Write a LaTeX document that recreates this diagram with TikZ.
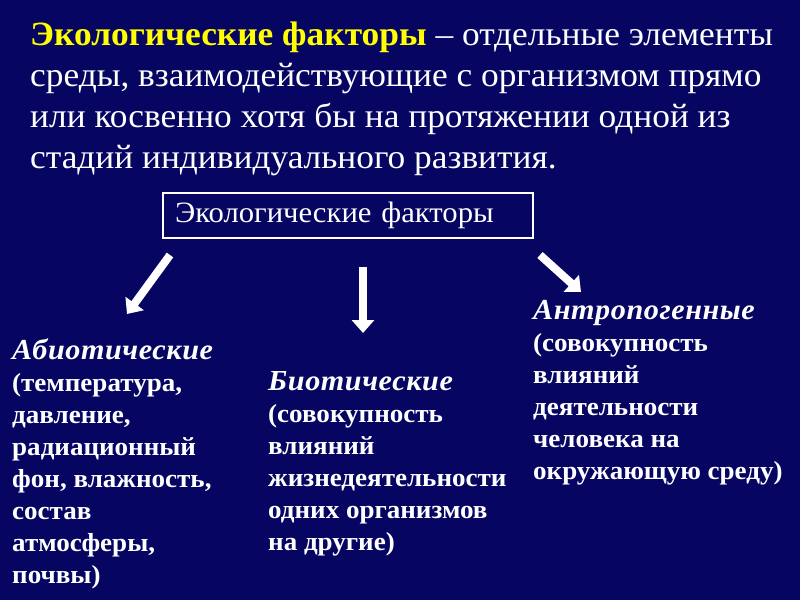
\documentclass[tikz,border=0pt]{standalone}
\usepackage{fontspec}
\setmainfont[FakeStretch=1.04]{Liberation Serif}
\usetikzlibrary{arrows.meta}
\definecolor{slidebg}{RGB}{6,6,98}
\definecolor{termyellow}{RGB}{255,255,0}
\tikzset{
  groupbox/.style={anchor=north west,align=left,text=white,inner sep=0pt,
    font=\fontsize{26}{32}\selectfont\bfseries},
  blockarrow/.style={->,white,line width=8pt}
}
\newcommand{\grouphead}[1]{{\fontsize{29}{32}\selectfont\itshape\addfontfeature{LetterSpace=2}#1}}

\begin{document}
\begin{tikzpicture}[>={Triangle[length=13pt,width=22pt]},x=1pt,y=-1pt]
	\fill[slidebg] (0,0) rectangle (800,600);
	\useasboundingbox (0,0) rectangle (800,600);
	% definition
	\node[anchor=north west,align=left,text=white,inner sep=0pt,
		font=\fontsize{34}{41}\selectfont] (title) at (30,22)
		{\textcolor{termyellow}{\bfseries Экологические факторы} – отдельные элементы\\
		среды, взаимодействующие с организмом прямо\\
		или косвенно хотя бы на протяжении одной из\\
		стадий индивидуального развития.};
	% central box
	\node[draw=white,line width=1.5pt,text=white,align=left,
		font=\fontsize{29.5}{32}\selectfont,
		text width=346pt,inner xsep=12pt,
		minimum height=45pt] (factors) at (348,215.5) {Экологические факторы};
	% arrows
	\coordinate (abiostart) at (170,255);
	\coordinate (abioend) at (127,314);
	\coordinate (biostart) at (363,267);
	\coordinate (bioend) at (363,333);
	\coordinate (anthrostart) at (540,255);
	\coordinate (anthroend) at (581,292);
	\draw[blockarrow] (abiostart) -- (abioend);
	\draw[blockarrow] (biostart) -- (bioend);
	\draw[blockarrow] (anthrostart) -- (anthroend);
	% groups
	\node[groupbox] (abio) at (12,339)
		{\grouphead{Абиотические}\\ (температура,\\ давление,\\ радиационный\\
		фон, влажность,\\ состав\\ атмосферы,\\ почвы)};
	\node[groupbox] (bio) at (268,371)
		{\grouphead{Биотические}\\ (совокупность\\ влияний\\ жизнедеятельности\\
		одних организмов\\ на другие)};
	\node[groupbox] (anthro) at (533,300)
		{\grouphead{Антропогенные}\\ (совокупность\\ влияний\\ деятельности\\
		человека на\\ окружающую среду)};
\end{tikzpicture}
\end{document}
